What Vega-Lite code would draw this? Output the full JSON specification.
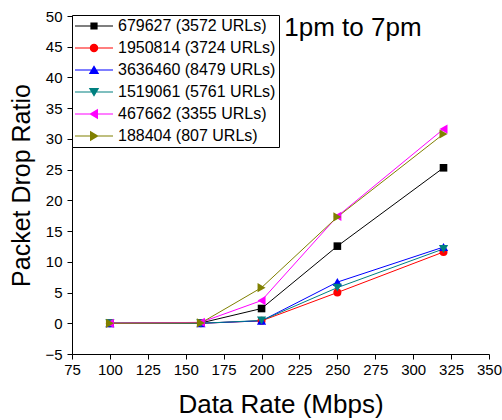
{
  "$schema": "https://vega.github.io/schema/vega-lite/v6.json",
  "width": 417,
  "height": 338,
  "autosize": {"type": "none"},
  "padding": {"left": 72, "top": 16, "right": 13, "bottom": 66},
  "background": "white",
  "config": {
    "font": "Liberation Sans",
    "view": {"stroke": null},
    "axis": {
      "grid": false,
      "domainColor": "black",
      "tickColor": "black",
      "labelColor": "black",
      "titleColor": "black",
      "labelFont": "Liberation Sans",
      "titleFont": "Liberation Sans",
      "titleFontWeight": "normal",
      "labelFontSize": 15,
      "tickSize": 5,
      "labelFlush": false,
      "labelOverlap": false
    },
    "legend": {
      "title": null,
      "padding": 3,
      "strokeColor": "black",
      "fillColor": "white",
      "symbolSize": 256,
      "symbolOffset": 11,
      "symbolStrokeWidth": 0,
      "symbolOpacity": 1,
      "labelFontSize": 16,
      "labelFont": "Liberation Sans",
      "labelColor": "black",
      "labelOffset": 16,
      "labelLimit": 300,
      "rowPadding": 6
    }
  },
  "datasets": {
    "rates": [
      {"series": "679627 (3572 URLs)", "rate": 100, "ratio": 0},
      {"series": "679627 (3572 URLs)", "rate": 160, "ratio": 0.05},
      {"series": "679627 (3572 URLs)", "rate": 200, "ratio": 2.4},
      {"series": "679627 (3572 URLs)", "rate": 250, "ratio": 12.55},
      {"series": "679627 (3572 URLs)", "rate": 320, "ratio": 25.3},
      {"series": "1950814 (3724 URLs)", "rate": 100, "ratio": 0},
      {"series": "1950814 (3724 URLs)", "rate": 160, "ratio": 0},
      {"series": "1950814 (3724 URLs)", "rate": 200, "ratio": 0.4},
      {"series": "1950814 (3724 URLs)", "rate": 250, "ratio": 5.0},
      {"series": "1950814 (3724 URLs)", "rate": 320, "ratio": 11.6},
      {"series": "3636460 (8479 URLs)", "rate": 100, "ratio": 0},
      {"series": "3636460 (8479 URLs)", "rate": 160, "ratio": 0},
      {"series": "3636460 (8479 URLs)", "rate": 200, "ratio": 0.4},
      {"series": "3636460 (8479 URLs)", "rate": 250, "ratio": 6.7},
      {"series": "3636460 (8479 URLs)", "rate": 320, "ratio": 12.4},
      {"series": "1519061 (5761 URLs)", "rate": 100, "ratio": 0},
      {"series": "1519061 (5761 URLs)", "rate": 160, "ratio": 0},
      {"series": "1519061 (5761 URLs)", "rate": 200, "ratio": 0.45},
      {"series": "1519061 (5761 URLs)", "rate": 250, "ratio": 5.8},
      {"series": "1519061 (5761 URLs)", "rate": 320, "ratio": 12.1},
      {"series": "467662 (3355 URLs)", "rate": 100, "ratio": 0},
      {"series": "467662 (3355 URLs)", "rate": 160, "ratio": 0.15},
      {"series": "467662 (3355 URLs)", "rate": 200, "ratio": 3.7},
      {"series": "467662 (3355 URLs)", "rate": 250, "ratio": 17.4},
      {"series": "467662 (3355 URLs)", "rate": 320, "ratio": 31.6},
      {"series": "188404 (807 URLs)", "rate": 100, "ratio": 0},
      {"series": "188404 (807 URLs)", "rate": 160, "ratio": 0.05},
      {"series": "188404 (807 URLs)", "rate": 200, "ratio": 5.8},
      {"series": "188404 (807 URLs)", "rate": 250, "ratio": 17.3},
      {"series": "188404 (807 URLs)", "rate": 320, "ratio": 30.8}
    ],
    "notes": [
      {"label": "1pm to 7pm", "rate": 215, "ratio": 46.8}
    ]
  },
  "data": {"name": "rates"},
  "encoding": {
    "x": {
      "field": "rate",
      "type": "quantitative",
      "scale": {"domain": [75, 350], "nice": false, "zero": false},
      "axis": {
        "values": [75, 100, 125, 150, 175, 200, 225, 250, 275, 300, 325, 350],
        "title": "Data Rate (Mbps)",
        "titleFontSize": 26,
        "labelPadding": 3,
        "titlePadding": 14
      }
    },
    "y": {
      "field": "ratio",
      "type": "quantitative",
      "scale": {"domain": [-5, 50], "nice": false, "zero": false},
      "axis": {
        "values": [-5, 0, 5, 10, 15, 20, 25, 30, 35, 40, 45, 50],
        "title": "Packet Drop Ratio",
        "titleFontSize": 25,
        "labelPadding": 5,
        "titlePadding": 10
      }
    }
  },
  "layer": [
    {
      "mark": {"type": "line", "strokeWidth": 1},
      "encoding": {
        "color": {
          "field": "series",
          "type": "nominal",
          "scale": {
            "domain": ["679627 (3572 URLs)", "1950814 (3724 URLs)", "3636460 (8479 URLs)", "1519061 (5761 URLs)", "467662 (3355 URLs)", "188404 (807 URLs)"],
            "range": ["#000000", "#ff0000", "#0000ff", "#008080", "#ff00ff", "#808000"]
          },
          "legend": null
        },
        "order": {"field": "rate", "type": "quantitative"}
      }
    },
    {
      "transform": [{"filter": {"field": "series", "equal": "679627 (3572 URLs)"}}],
      "mark": {"type": "point", "shape": "square", "filled": true, "size": 58, "opacity": 1},
      "encoding": {"color": {"field": "series", "type": "nominal", "legend": null}}
    },
    {
      "transform": [{"filter": {"field": "series", "equal": "1950814 (3724 URLs)"}}],
      "mark": {"type": "point", "shape": "circle", "filled": true, "size": 64, "opacity": 1},
      "encoding": {"color": {"field": "series", "type": "nominal", "legend": null}}
    },
    {
      "transform": [{"filter": {"field": "series", "equal": "3636460 (8479 URLs)"}}],
      "mark": {"type": "point", "shape": "triangle-up", "filled": true, "size": 85, "opacity": 1},
      "encoding": {"color": {"field": "series", "type": "nominal", "legend": null}}
    },
    {
      "transform": [{"filter": {"field": "series", "equal": "1519061 (5761 URLs)"}}],
      "mark": {"type": "point", "shape": "triangle-down", "filled": true, "size": 85, "opacity": 1},
      "encoding": {"color": {"field": "series", "type": "nominal", "legend": null}}
    },
    {
      "transform": [{"filter": {"field": "series", "equal": "467662 (3355 URLs)"}}],
      "mark": {"type": "point", "shape": "triangle-left", "filled": true, "size": 85, "opacity": 1},
      "encoding": {"color": {"field": "series", "type": "nominal", "legend": null}}
    },
    {
      "transform": [{"filter": {"field": "series", "equal": "188404 (807 URLs)"}}],
      "mark": {"type": "point", "shape": "triangle-right", "filled": true, "size": 85, "opacity": 1},
      "encoding": {"color": {"field": "series", "type": "nominal", "legend": null}}
    },
    {
      "transform": [{"filter": "false"}],
      "mark": {"type": "point", "filled": true, "opacity": 1, "strokeWidth": 0},
      "encoding": {
        "color": {
          "field": "series",
          "type": "nominal",
          "legend": {"orient": "none", "legendX": 0, "legendY": -1}
        },
        "shape": {
          "field": "series",
          "type": "nominal",
          "scale": {
            "domain": ["679627 (3572 URLs)", "1950814 (3724 URLs)", "3636460 (8479 URLs)", "1519061 (5761 URLs)", "467662 (3355 URLs)", "188404 (807 URLs)"],
            "range": [
              "M-2.375,-0.0625H2.375V0.0625H-2.375Z M-0.45,-0.45H0.45V0.45H-0.45Z",
              "M-2.375,-0.0625H2.375V0.0625H-2.375Z M-0.53,0A0.53,0.53,0,1,1,0.53,0A0.53,0.53,0,1,1,-0.53,0Z",
              "M-2.375,-0.0625H2.375V0.0625H-2.375Z M0,-0.6L0.65,0.5L-0.65,0.5Z",
              "M-2.375,-0.0625H2.375V0.0625H-2.375Z M-0.65,-0.5L0.65,-0.5L0,0.6Z",
              "M-2.375,-0.0625H2.375V0.0625H-2.375Z M-0.6,0L0.5,-0.65L0.5,0.65Z",
              "M-2.375,-0.0625H2.375V0.0625H-2.375Z M0.6,0L-0.5,0.65L-0.5,-0.65Z"
            ]
          },
          "legend": {"orient": "none", "legendX": 0, "legendY": -1}
        }
      }
    },
    {
      "data": {"name": "notes"},
      "mark": {"type": "text", "align": "left", "baseline": "alphabetic", "fontSize": 26, "font": "Liberation Sans", "color": "black"},
      "encoding": {
        "text": {"field": "label", "type": "nominal"}
      }
    }
  ],
  "resolve": {"legend": {"color": "independent", "shape": "independent"}}
}
